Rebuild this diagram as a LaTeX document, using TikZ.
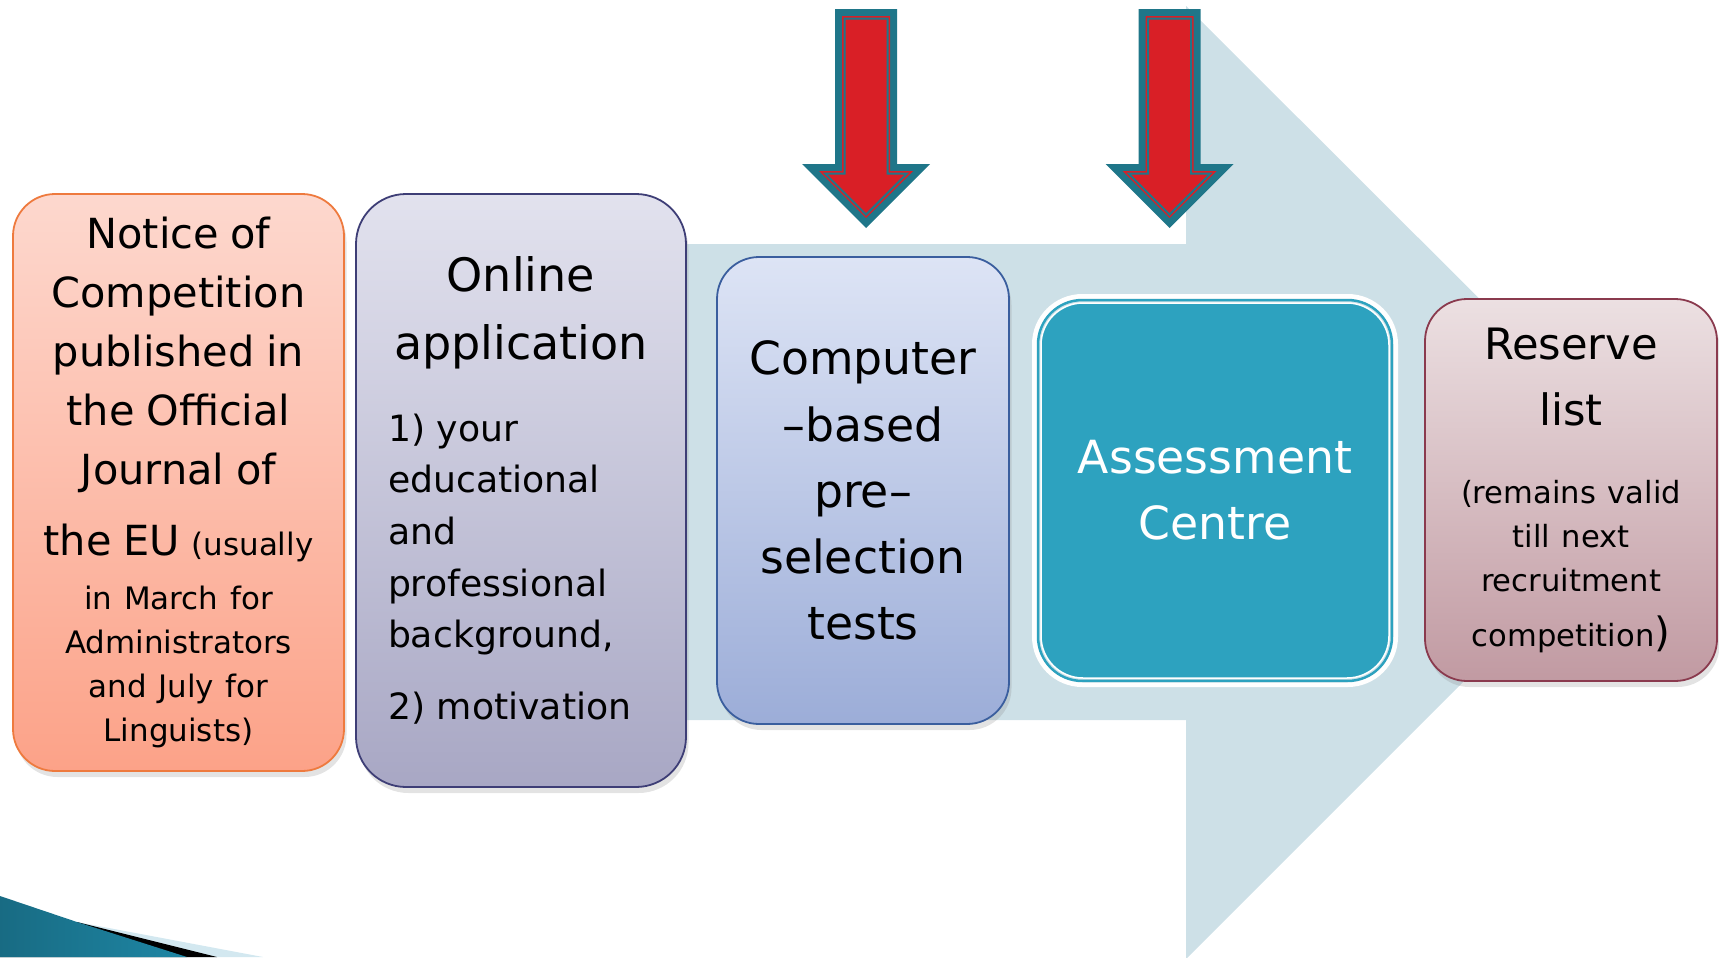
\documentclass[tikz,border=0pt]{standalone}
\usepackage{fontspec}
\setmainfont{DejaVu Sans}
\usetikzlibrary{shadows,calc}

\definecolor{flowblue}{HTML}{CDE0E7}
\definecolor{arrowteal}{HTML}{1F7689}
\definecolor{arrowred}{HTML}{D91F26}
\definecolor{noticetop}{HTML}{FDD8CE}
\definecolor{noticebot}{HTML}{FCA288}
\definecolor{noticeline}{HTML}{EE7A3E}
\definecolor{onlinetop}{HTML}{E2E2EE}
\definecolor{onlinebot}{HTML}{A8A7C4}
\definecolor{onlineline}{HTML}{3E3E76}
\definecolor{cbttop}{HTML}{DDE4F5}
\definecolor{cbtbot}{HTML}{9CADD8}
\definecolor{cbtline}{HTML}{3A5E9E}
\definecolor{acteal}{HTML}{2DA2BF}
\definecolor{reservetop}{HTML}{ECE0E2}
\definecolor{reservebot}{HTML}{C19AA2}
\definecolor{reserveline}{HTML}{8A3A4E}
\definecolor{cornerteal}{HTML}{1E86A4}
\definecolor{cornerlight}{HTML}{D3E8F0}

\begin{document}
\begin{tikzpicture}[x=0.1mm, y=-0.1mm,
    stage/.style={rectangle, rounded corners=4.2mm, line width=0.18mm, inner sep=0pt,
      drop shadow={shadow xshift=0.25mm, shadow yshift=-0.6mm, opacity=0.22}},
    bigtext/.style={font=\fontsize{13}{18.8}\selectfont}]
    \useasboundingbox (0,0) rectangle (1719,957);

    % pale process arrow behind the stages
    \fill[flowblue] (640,244) -- (1186,244) -- (1186,6) -- (1663,482) -- (1186,959) -- (1186,720) -- (640,720) -- cycle;

    % corner ornament
    \fill[cornerlight] (77,922) -- (263,957) -- (0,957) -- cycle;
    \fill[black] (77,922) -- (217,957) -- (0,957) -- cycle;
    \shade[left color=cornerteal!80!black, right color=cornerteal] (0,896) -- (77,922) -- (187,957) -- (0,957) -- cycle;

    % red down arrows
    \foreach \ax in {866,1169.5} {
        \fill[arrowteal] ({\ax-31},9) -- ({\ax+31},9) -- ({\ax+31},164) -- ({\ax+64},164) -- (\ax,228) -- ({\ax-64},164) -- ({\ax-31},164) -- cycle;
        \fill[arrowred] ({\ax-24},16) -- ({\ax+24},16) -- ({\ax+24},171) -- ({\ax+47},171) -- (\ax,218) -- ({\ax-47},171) -- ({\ax-24},171) -- cycle;
        \draw[arrowteal, line width=0.2mm] ({\ax-21.5},18.5) -- ({\ax+21.5},18.5) -- ({\ax+21.5},173.5) -- ({\ax+41},173.5) -- (\ax,214.6) -- ({\ax-41},173.5) -- ({\ax-21.5},173.5) -- cycle;
    }

    % stages
    \node[stage, draw=noticeline, top color=noticetop, bottom color=noticebot,
        minimum width=33.1mm, minimum height=57.7mm, text width=30mm, align=center] (notice) at (178.5,482.5)
        {{\fontsize{11.8}{16.8}\selectfont Notice of\\Competition\\published in\\the Official\\Journal of\\[3.4pt]the EU {\fontsize{8.8}{12.5}\selectfont (usually}\par}
         \vspace{3pt}
         {\fontsize{8.8}{12.5}\selectfont in March for\\Administrators\\and July for\\Linguists)\par}};

    \node[stage, draw=onlineline, top color=onlinetop, bottom color=onlinebot, rounded corners=5mm,
        minimum width=33mm, minimum height=59.3mm, text width=26.6mm] (online) at (521,490.5)
        {\centering{\fontsize{13.1}{19.3}\selectfont Online\\application\par}
         \vspace{8.5pt}
         \raggedright\fontsize{10.3}{14.7}\selectfont 1) your\\educational\\and\\professional\\background,\\[5.7pt]2) motivation\par};

    \node[stage, draw=cbtline, top color=cbttop, bottom color=cbtbot,
        minimum width=29.2mm, minimum height=46.7mm, text width=26mm, align=center, bigtext] (cbt) at (863,490.5)
        {Computer\\–based\\pre–\\selection\\tests};

    \node[rectangle, rounded corners=4.2mm, inner sep=0pt, fill=acteal, draw=white, line width=0.15mm,
        minimum width=34.8mm, minimum height=37.5mm, text width=31mm, align=center, bigtext, text=white] (assess) at (1215,490.5)
        {Assessment\\Centre};
    \draw[acteal, line width=0.25mm, rounded corners=4.4mm] ($(assess.north west)+(-2.2,-2.2)$) rectangle ($(assess.south east)+(2.2,2.2)$);
    \draw[white, line width=0.45mm, rounded corners=4.8mm] ($(assess.north west)+(-6,-6)$) rectangle ($(assess.south east)+(6,6)$);

    \node[stage, draw=reserveline, top color=reservetop, bottom color=reservebot,
        minimum width=29.2mm, minimum height=38.2mm, text width=26mm, align=center] (reserve) at (1571,490)
        {{\fontsize{12.3}{18.8}\selectfont Reserve\\list\par}
         \vspace{9.9pt}
         {\fontsize{8.7}{12.5}\selectfont (remains valid\\till next\\recruitment\\[3pt]competition{\fontsize{11.5}{12.5}\selectfont)}\par}};
\end{tikzpicture}
\end{document}
